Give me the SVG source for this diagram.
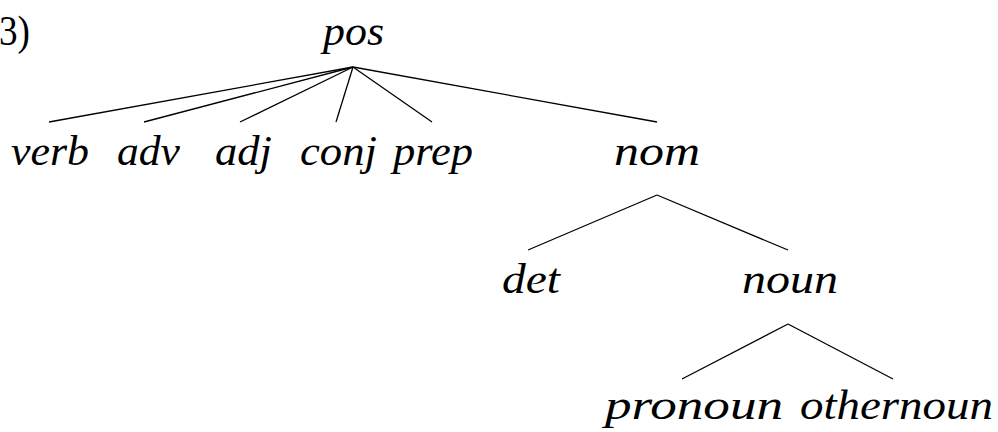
<svg xmlns="http://www.w3.org/2000/svg" width="998" height="432" viewBox="0 0 998 432">
<style>
.t{font-family:"Liberation Serif","DejaVu Serif",serif;font-style:italic;font-size:42px;fill:#000}
.up{font-style:normal}
.e{stroke:#000;stroke-width:1.3;fill:none}
</style>
<rect width="998" height="432" fill="#fff"/>
<text class="t up" x="-1" y="45" textLength="31" lengthAdjust="spacingAndGlyphs">3)</text>
<g id="pos"><text class="t" x="323" y="45" textLength="61" lengthAdjust="spacingAndGlyphs">pos</text></g>
<g id="verb"><text class="t" x="11" y="165" textLength="78" lengthAdjust="spacingAndGlyphs">verb</text></g>
<g id="adv"><text class="t" x="117" y="165" textLength="63" lengthAdjust="spacingAndGlyphs">adv</text></g>
<g id="adj"><text class="t" x="215" y="165" textLength="57" lengthAdjust="spacingAndGlyphs">adj</text></g>
<g id="conj"><text class="t" x="300" y="165" textLength="77" lengthAdjust="spacingAndGlyphs">conj</text></g>
<g id="prep"><text class="t" x="393" y="165" textLength="80" lengthAdjust="spacingAndGlyphs">prep</text></g>
<g id="nom"><text class="t" x="614" y="165" textLength="86" lengthAdjust="spacingAndGlyphs">nom</text></g>
<g id="det"><text class="t" x="502" y="293" textLength="58" lengthAdjust="spacingAndGlyphs">det</text></g>
<g id="noun"><text class="t" x="742" y="293" textLength="96" lengthAdjust="spacingAndGlyphs">noun</text></g>
<g id="pronoun"><text class="t" x="605" y="419" textLength="178" lengthAdjust="spacingAndGlyphs">pronoun</text></g>
<g id="othernoun"><text class="t" x="800" y="419" textLength="193" lengthAdjust="spacingAndGlyphs">othernoun</text></g>
<g id="connectors" class="e">
<line x1="353" y1="67" x2="49" y2="122"/>
<line x1="353" y1="67" x2="144" y2="122"/>
<line x1="353" y1="67" x2="240" y2="122"/>
<line x1="353" y1="67" x2="336" y2="122"/>
<line x1="353" y1="67" x2="432" y2="122"/>
<line x1="353" y1="67" x2="657" y2="122"/>
<line x1="657" y1="195" x2="528" y2="250"/>
<line x1="657" y1="195" x2="788" y2="250"/>
<line x1="788" y1="324" x2="682" y2="379"/>
<line x1="788" y1="324" x2="893" y2="379"/>
</g>
</svg>
